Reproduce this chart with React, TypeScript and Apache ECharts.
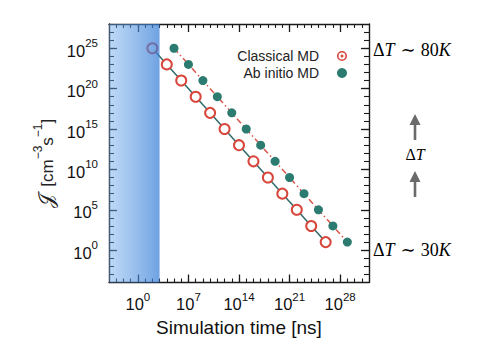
import React, { useEffect, useRef } from "react";
import * as echarts from "echarts";

// Data
const classicalTime = [1e2, 1e4, 1e6, 1e8, 1e10, 1e12, 1e14, 1e16, 1e18, 1e20, 1e22, 1e24, 1e26];
const classicalRate = [1e25, 1e23, 1e21, 1e19, 1e17, 1e15, 1e13, 1e11, 1e9, 1e7, 1e5, 1e3, 1e1];
const abInitioTime = [1e5, 1e7, 1e9, 1e11, 1e13, 1e15, 1e17, 1e19, 1e21, 1e23, 1e25, 1e27, 1e29];
const abInitioRate = [1e25, 1e23, 1e21, 1e19, 1e17, 1e15, 1e13, 1e11, 1e9, 1e7, 1e5, 1e3, 1e1];
const shadedTime = [1e-4, 1e3];

const xTickExponents = [0, 7, 14, 21, 28];
const yTickExponents = [0, 5, 10, 15, 20, 25];
const xExpRange = [-4, 32];
const yExpRange = [-4, 28];

const FONT = "Liberation Sans, Arial, Helvetica, sans-serif";
const SERIF = "Liberation Serif, DejaVu Serif, serif";

const lg = (v: number) => Math.log10(v);
const range = (a: number, b: number) => {
  const r: number[] = [];
  for (let i = a; i <= b; i++) r.push(i);
  return r;
};

const richLabel = {
  b: { fontSize: 16.5, lineHeight: 22, verticalAlign: "bottom", fontFamily: FONT, color: "#111" },
  s: { fontSize: 11.5, lineHeight: 12, verticalAlign: "top", fontFamily: FONT, color: "#111" },
};
const fmt = (v: number) => `{b|10}{s|${Math.round(v)}}`;

const axisLineStyle = { show: true, onZero: false, lineStyle: { color: "#1a1a1a", width: 1.4 } };

function makeAxes(dim: "x" | "y") {
  const isX = dim === "x";
  const rng = isX ? xExpRange : yExpRange;
  const majors = isX ? xTickExponents : yTickExponents;
  const minors = range(rng[0] + 1, rng[1] - 1);
  const positions = isX ? ["bottom", "top"] : ["left", "right"];
  const axes: any[] = [];
  positions.forEach((pos, pi) => {
    axes.push({
      type: "value",
      position: pos,
      min: rng[0],
      max: rng[1],
      axisLine: axisLineStyle,
      splitLine: { show: false },
      axisTick: {
        show: true,
        inside: true,
        length: 8,
        customValues: majors,
        lineStyle: { color: "#1a1a1a", width: 1.3 },
      },
      axisLabel: {
        show: pi === 0,
        customValues: majors,
        formatter: fmt,
        rich: richLabel,
        margin: isX ? 8 : 11,
      },
      ...(pi === 0
        ? isX
          ? {
              name: "Simulation time [ns]",
              nameLocation: "middle",
              nameGap: 35,
              nameTextStyle: { fontSize: 19, fontFamily: FONT, color: "#111" },
            }
          : {
              name: "{j|𝒥}{g|}{t|[cm}{u|−3}{t|s}{u|−1}{t|]}{p|}",
              nameLocation: "middle",
              nameGap: 30,
              nameTextStyle: {
                rich: {
                  j: { fontSize: 20, fontFamily: "DejaVu Sans, Noto Sans, serif", color: "#222", lineHeight: 24, verticalAlign: "bottom" },
                  g: { width: 7 },
                  t: { fontSize: 17, fontFamily: FONT, color: "#222", lineHeight: 24, verticalAlign: "bottom" },
                  u: { fontSize: 12, fontFamily: FONT, color: "#222", lineHeight: 12, verticalAlign: "top" },
                  p: { width: 20 },
                },
              },
            }
        : {}),
    });
    axes.push({
      type: "value",
      position: pos,
      min: rng[0],
      max: rng[1],
      axisLine: { show: false, onZero: false },
      splitLine: { show: false },
      axisTick: {
        show: true,
        inside: true,
        length: isX ? 4 : 5,
        customValues: minors,
        lineStyle: { color: "#1a1a1a", width: 1.1 },
      },
      axisLabel: { show: false },
    });
  });
  return axes;
}

const classicalData = classicalTime.map((t, i) => [lg(t), lg(classicalRate[i])]);
const abInitioData = abInitioTime.map((t, i) => [lg(t), lg(abInitioRate[i])]);

const RED = "#d8463c";
const TEAL = "#2b7b70";
const TEAL_LINE = "#2f6b69";

const ringDotIcon =
  "path://M0,-10A10,10,0,1,1,0,10A10,10,0,1,1,0,-10Z" +
  "M0,-6.8A6.8,6.8,0,1,0,0,6.8A6.8,6.8,0,1,0,0,-6.8Z" +
  "M0,-3A3,3,0,1,1,0,3A3,3,0,1,1,0,-3Z";

function arrow(xc: number, tip: number, bottom: number) {
  return [
    { type: "line", shape: { x1: xc, y1: tip + 8, x2: xc, y2: bottom }, style: { stroke: "#6a6a6a", lineWidth: 2.6 } },
    { type: "polygon", shape: { points: [[xc - 5.5, tip + 11], [xc + 5.5, tip + 11], [xc, tip]] }, style: { fill: "#6a6a6a" } },
  ];
}

const annRich = {
  u: { fontSize: 18, fontFamily: SERIF, color: "#111" },
  i: { fontSize: 18, fontFamily: SERIF, fontStyle: "italic", color: "#111" },
  r: { fontSize: 18, fontFamily: SERIF, color: "#111", padding: [0, 5, 0, 6] },
};

export default function App() {
  const ref = useRef<HTMLDivElement>(null);
  useEffect(() => {
    if (!ref.current) return;
    document.body.style.margin = "0";
    const chart = echarts.init(ref.current, undefined, { renderer: "svg" });
    const option: any = {
      animation: false,
      backgroundColor: "#ffffff",
      grid: { left: 109, top: 24, width: 260, height: 258.5 },
      xAxis: makeAxes("x"),
      yAxis: makeAxes("y"),
      legend: {
        orient: "vertical",
        align: "right",
        right: 148,
        top: 44,
        itemWidth: 36,
        itemHeight: 10,
        itemGap: 3,
        textStyle: { fontSize: 14, fontFamily: FONT, color: "#222" },
        data: [
          { name: "Classical MD", icon: ringDotIcon, itemStyle: { color: RED, borderWidth: 0 } },
          { name: "Ab initio MD", icon: "circle", itemStyle: { color: TEAL, borderWidth: 0 } },
        ],
      },
      series: [
        {
          name: "Classical MD",
          type: "line",
          xAxisIndex: 0,
          yAxisIndex: 0,
          data: classicalData,
          symbol: "emptyCircle",
          symbolSize: 10,
          itemStyle: { color: RED, borderColor: RED, borderWidth: 2.2 },
          lineStyle: { color: TEAL_LINE, width: 1.5 },
          z: 3,
        },
        {
          name: "Ab initio MD",
          type: "line",
          xAxisIndex: 0,
          yAxisIndex: 0,
          data: abInitioData,
          symbol: "circle",
          symbolSize: 9,
          itemStyle: { color: TEAL },
          lineStyle: { color: "#d9574c", width: 1.5, type: [6, 3, 1.5, 3] },
          z: 3,
        },
        {
          name: "shade",
          type: "custom",
          xAxisIndex: 0,
          yAxisIndex: 0,
          z: 10,
          silent: true,
          data: [[lg(shadedTime[0]), lg(shadedTime[1])]],
          renderItem: (params: any, api: any) => {
            const p0 = api.coord([api.value(0), yExpRange[1]]);
            const p1 = api.coord([api.value(1), yExpRange[0]]);
            return {
              type: "rect",
              shape: { x: p0[0], y: p0[1], width: p1[0] - p0[0], height: p1[1] - p0[1] },
              style: {
                fill: new echarts.graphic.LinearGradient(0, 0, 1, 0, [
                  { offset: 0, color: "rgba(110,170,235,0.45)" },
                  { offset: 1, color: "rgba(55,125,215,0.72)" },
                ]),
              },
            };
          },
        },
      ],
      graphic: [
        {
          type: "text",
          x: 373,
          y: 50,
          style: { text: "{u|Δ}{i|T}{r|∼}{u|80}{i|K}", verticalAlign: "middle", rich: annRich },
        },
        {
          type: "text",
          x: 373,
          y: 250,
          style: { text: "{u|Δ}{i|T}{r|∼}{u|30}{i|K}", verticalAlign: "middle", rich: annRich },
        },
        {
          type: "text",
          x: 415,
          y: 154,
          style: {
            text: "{u|Δ}{i|T}",
            align: "center",
            verticalAlign: "middle",
            rich: {
              u: { fontSize: 16, fontFamily: SERIF, color: "#333" },
              i: { fontSize: 16, fontFamily: SERIF, fontStyle: "italic", color: "#333" },
            },
          },
        },
        ...arrow(415, 114, 140),
        ...arrow(415, 171, 197),
      ],
    };
    chart.setOption(option);
    return () => chart.dispose();
  }, []);
  return <div ref={ref} style={{ width: 500, height: 360 }} />;
}
